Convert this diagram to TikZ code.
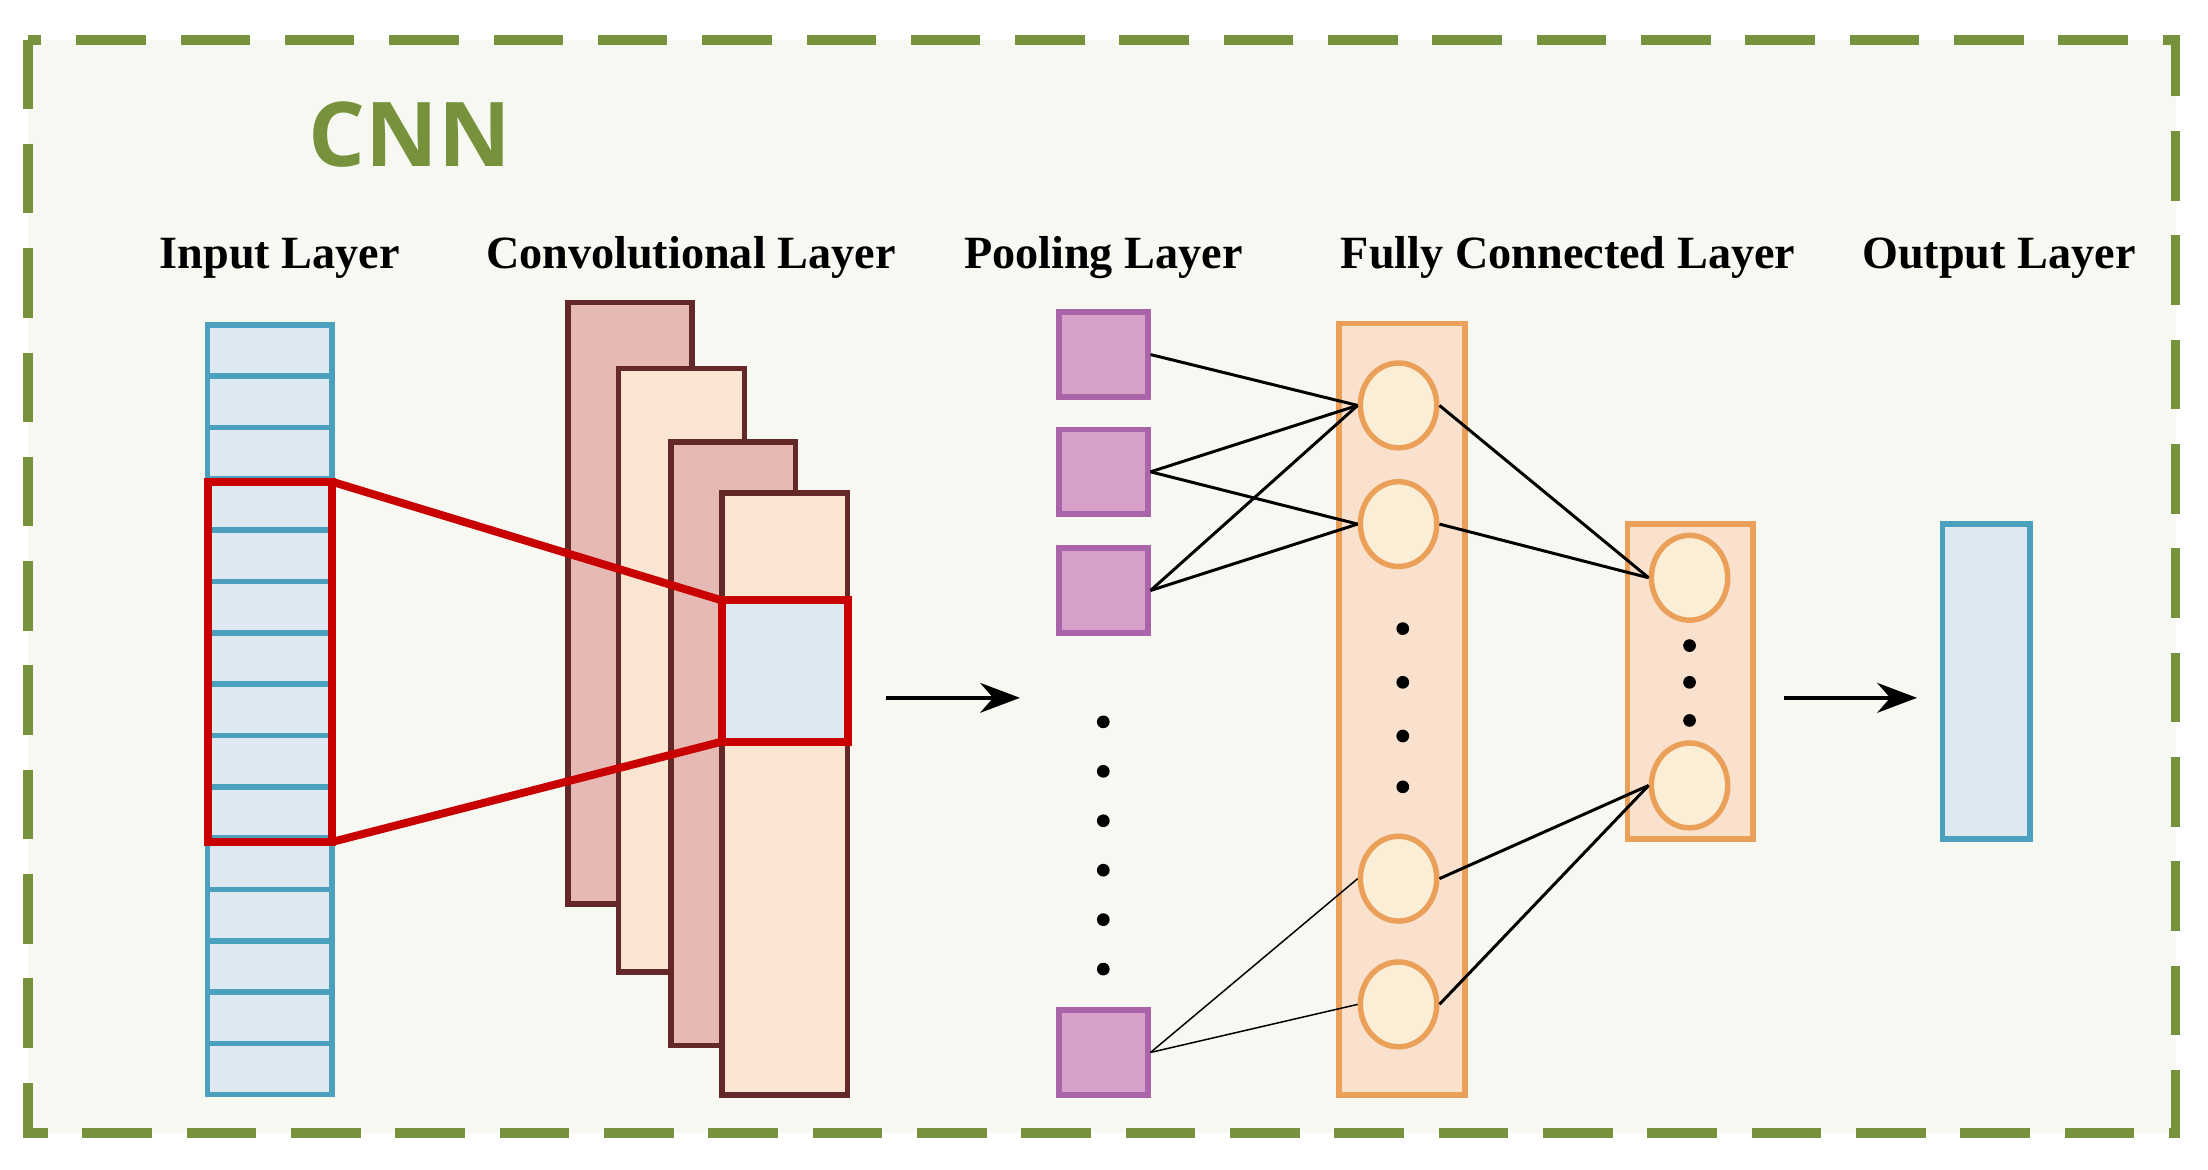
\documentclass[tikz,border=0pt]{standalone}
\usepackage{fontspec}
\setmainfont{Liberation Serif}
\newfontfamily\sansb{Open Sans}
\usetikzlibrary{arrows.meta}
\definecolor{grn}{RGB}{118,146,60}
\definecolor{bgc}{RGB}{248,248,242}
\definecolor{inf}{RGB}{222,232,240}
\definecolor{ins}{RGB}{75,160,190}
\definecolor{rd}{RGB}{200,0,0}
\definecolor{cpk}{RGB}{230,185,180}
\definecolor{clt}{RGB}{250,228,210}
\definecolor{cst}{RGB}{100,40,40}
\definecolor{pf}{RGB}{215,160,200}
\definecolor{ps}{RGB}{170,100,170}
\definecolor{ff}{RGB}{250,225,205}
\definecolor{fs}{RGB}{235,160,90}
\definecolor{cf}{RGB}{250,238,215}
\tikzset{
 lbl/.style={font=\fontsize{9.3}{10}\selectfont\bfseries, anchor=base},
 cell/.style={draw=ins, fill=inf, line width=1.1pt},
 conv/.style={draw=cst, line width=1.1pt},
 pool/.style={draw=ps, fill=pf, line width=1.1pt, minimum width=0.63cm, minimum height=0.6cm, inner sep=0},
 neu/.style={draw=fs, fill=cf, line width=1.1pt, ellipse, minimum width=0.54cm, minimum height=0.6cm, inner sep=0},
 box/.style={draw=fs, fill=ff, line width=1.1pt},
 dot/.style={fill=black, circle, inner sep=0, minimum size=0.09cm},
 red/.style={draw=rd, line width=1.6pt},
 arr/.style={-{Stealth[length=8pt,width=6pt]}, line width=0.8pt}
}
\usetikzlibrary{shapes.geometric}
\begin{document}
\begin{tikzpicture}[x=0.01cm,y=-0.01cm]
\useasboundingbox (0,0) rectangle (1563,828);
\draw[grn, fill=bgc, line width=2pt, dash pattern=on 14pt off 7pt] (20,28) rectangle (1540,802);
\node[text=grn, font=\sansb\fontsize{18}{20}\selectfont\bfseries] (t) at (290,95) {CNN};
\node[lbl] (l1) at (198,190) {Input Layer};
\node[lbl] (l2) at (489,190) {Convolutional Layer};
\node[lbl] (l3) at (781,190) {Pooling Layer};
\node[lbl] (l4) at (1110,190) {Fully Connected Layer};
\node[lbl] (l5) at (1415,190) {Output Layer};
% input
\foreach \i in {0,...,14}{
 \draw[cell] (147,{230+\i*36.33}) rectangle (235,{230+(\i+1)*36.33});}
% conv
\draw[conv, fill=cpk] (402,214) rectangle (490,640);
\draw[conv, fill=clt] (438,261) rectangle (527,688);
\draw[conv, fill=cpk] (475,313) rectangle (563,740);
\draw[conv, fill=clt] (511,349) rectangle (600,775);
\draw[red, fill=inf] (511,425) rectangle (600,525);
\draw[red] (147,341) rectangle (235,596);
\draw[red] (235,341) -- (511,425);
\draw[red] (235,596) -- (511,525);
\coordinate (a1) at (627,494); \coordinate (a2) at (722,494);
\draw[arr] (a1) -- (a2);
% pooling
\node[pool] (p1) at (781,251) {};
\node[pool] (p2) at (781,334) {};
\node[pool] (p3) at (781,418) {};
\node[pool] (p4) at (781,745) {};
\foreach \y in {511,546,581,616,651,686}{\node[dot] at (781,\y) {};}
% FC
\draw[box] (948,229) rectangle (1037,775);
\node[neu] (c1) at (990,287) {};
\node[neu] (c2) at (990,371) {};
\node[neu] (c3) at (990,622) {};
\node[neu] (c4) at (990,711) {};
\foreach \y in {445,483,521,557}{\node[dot] at (993,\y) {};}
\draw[box] (1152,371) rectangle (1241,594);
\node[neu] (h1) at (1196,409) {};
\node[neu] (h2) at (1196,556) {};
\foreach \y in {457,483,510}{\node[dot] at (1196,\y) {};}
\draw[cell] (1375,371) rectangle (1437,594);
\coordinate (b1) at (1263,494); \coordinate (b2) at (1357,494);
\draw[arr] (b1) -- (b2);
% connections
\draw[line width=0.6pt] (p1.east) -- (c1.west);
\draw[line width=0.6pt] (p2.east) -- (c1.west);
\draw[line width=0.6pt] (p2.east) -- (c2.west);
\draw[line width=0.6pt] (p3.east) -- (c1.west);
\draw[line width=0.6pt] (p3.east) -- (c2.west);
\draw[line width=0.3pt] (p4.east) -- (c3.west);
\draw[line width=0.3pt] (p4.east) -- (c4.west);
\draw[line width=0.6pt] (c1.east) -- (h1.west);
\draw[line width=0.6pt] (c2.east) -- (h1.west);
\draw[line width=0.6pt] (c3.east) -- (h2.west);
\draw[line width=0.6pt] (c4.east) -- (h2.west);
\end{tikzpicture}
\end{document}
